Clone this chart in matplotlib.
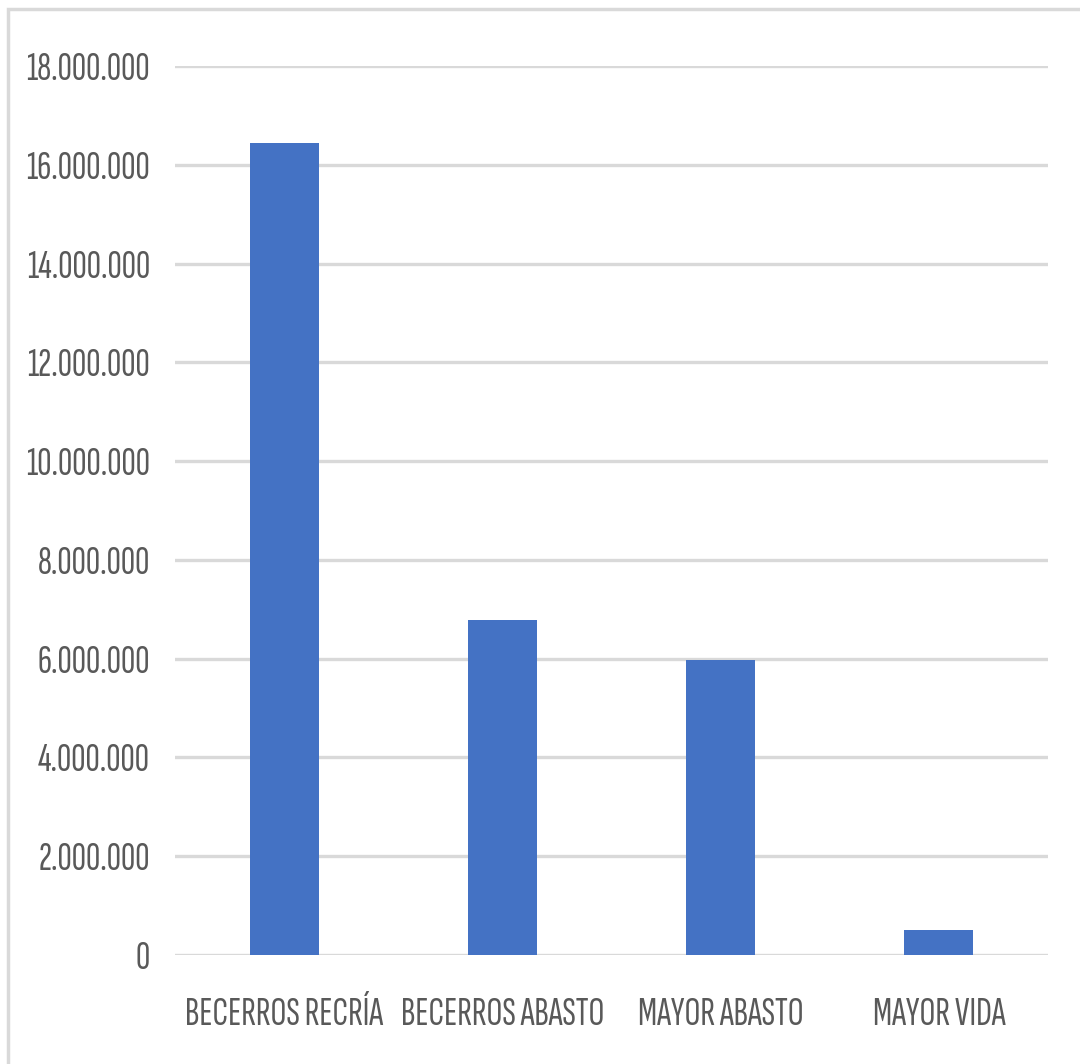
import matplotlib.pyplot as plt
import matplotlib.ticker as ticker
from matplotlib.patches import Rectangle

# Datos
categorias = ['BECERROS RECRÍA', 'BECERROS ABASTO', 'MAYOR ABASTO', 'MAYOR VIDA']
valores = [16450000, 6780000, 5970000, 510000]
ticks_y = [0, 2000000, 4000000, 6000000, 8000000, 10000000,
           12000000, 14000000, 16000000, 18000000]

plt.rcParams['font.family'] = ['Sofia Sans Extra Condensed', 'DejaVu Sans']

fig = plt.figure(figsize=(10.8, 10.64), dpi=100)
ax = fig.add_axes([175/1080, 109/1064, 873/1080, 889/1064])

x = range(len(categorias))
ax.bar(x, valores, width=0.316, color='#4472C4', zorder=3)

ax.set_xlim(-0.5, 3.5)
ax.set_ylim(0, 18000000)
ax.set_yticks(ticks_y)
ax.yaxis.set_major_formatter(ticker.FuncFormatter(lambda v, p: f'{int(v):,}'.replace(',', '.')))
ax.set_xticks(list(x))
ax.set_xticklabels(categorias)

ax.grid(axis='y', color='#d9d9d9', linewidth=2.4, zorder=0)
for s in ax.spines.values():
    s.set_visible(False)
ax.tick_params(axis='both', length=0, labelsize=28.5, labelcolor='#595959')
ax.tick_params(axis='y', pad=18)
ax.tick_params(axis='x', pad=30)

# borde del grafico
fig.patches.append(Rectangle((8/1080, -0.1), 1.2, (1064 - 9)/1064 + 0.1,
                             transform=fig.transFigure, fill=False,
                             edgecolor='#d9d9d9', linewidth=2.5))

fig.savefig('out.png', dpi=100)
